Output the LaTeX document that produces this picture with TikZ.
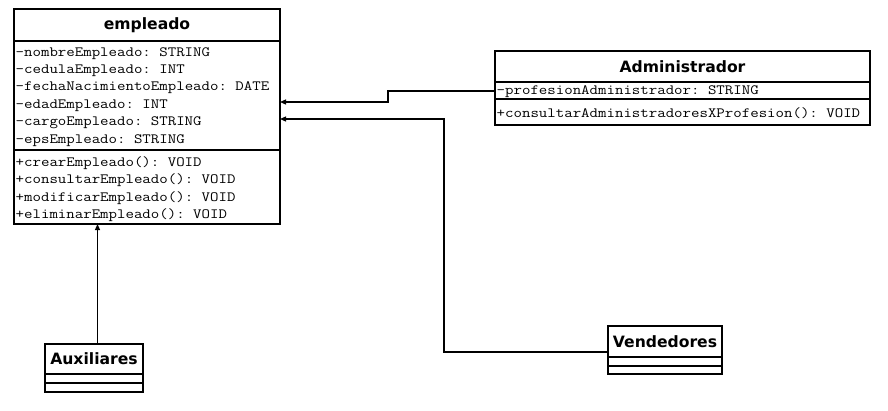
\documentclass[tikz,border=0pt]{standalone}
\usepackage{fontspec}
\setmonofont{Latin Modern Mono}[FakeStretch=1.16]
\newfontfamily\titlefont{DejaVu Sans}
\usetikzlibrary{arrows.meta}
\begin{document}
\begin{tikzpicture}[x=1pt,y=-1pt,
  classbox/.style={draw=black,line width=1.1pt,fill=white,inner sep=0pt,outer sep=0pt,anchor=north west},
  sepline/.style={line width=1.1pt},
  classname/.style={font=\titlefont\bfseries\fontsize{15.6}{18}\selectfont,inner sep=0pt},
  member/.style={font=\ttfamily\fontsize{14.15}{17}\selectfont,inner sep=0pt,anchor=base west},
  arr/.style={line width=1.2pt,-{Triangle[length=6pt,width=5pt]}}]
\useasboundingbox (0,0) rectangle (888,410);

% class empleado
\node[classbox,minimum width=266pt,minimum height=215pt] (emp) at (14,9) {};
\draw[sepline] ([yshift=-32pt]emp.north west) -- ([yshift=-32pt]emp.north east);
\draw[sepline] ([yshift=-141pt]emp.north west) -- ([yshift=-141pt]emp.north east);
\node[classname] (empT) at (147,25) {empleado};
\foreach \t [count=\i] in {-nombreEmpleado: STRING,-cedulaEmpleado: INT,-fechaNacimientoEmpleado: DATE,-edadEmpleado: INT,-cargoEmpleado: STRING,-epsEmpleado: STRING}
  \node[member] (empa\i) at (15.5,56+17.45*\i-17.45) {\t};
\foreach \t [count=\i] in {+crearEmpleado(): VOID,+consultarEmpleado(): VOID,+modificarEmpleado(): VOID,+eliminarEmpleado(): VOID}
  \node[member] (empm\i) at (15.5,166.2+17.4*\i-17.4) {\t};

% class Administrador
\node[classbox,minimum width=375pt,minimum height=74pt] (adm) at (495,51) {};
\draw[sepline] ([yshift=-31pt]adm.north west) -- ([yshift=-31pt]adm.north east);
\draw[sepline] ([yshift=-48pt]adm.north west) -- ([yshift=-48pt]adm.north east);
\node[classname] (admT) at (682.5,66.5) {Administrador};
\node[member] (adma1) at (496.5,94.5) {-profesionAdministrador: STRING};
\node[member] (admm1) at (496.5,117.5) {+consultarAdministradoresXProfesion(): VOID};

% class Vendedores
\node[classbox,minimum width=114pt,minimum height=48pt] (ven) at (608,326) {};
\draw[sepline] ([yshift=-31pt]ven.north west) -- ([yshift=-31pt]ven.north east);
\draw[sepline] ([yshift=-40pt]ven.north west) -- ([yshift=-40pt]ven.north east);
\node[classname] (venT) at (665,341.5) {Vendedores};

% class Auxiliares
\node[classbox,minimum width=98pt,minimum height=48pt] (aux) at (45,344) {};
\draw[sepline] ([yshift=-30pt]aux.north west) -- ([yshift=-30pt]aux.north east);
\draw[sepline] ([yshift=-39pt]aux.north west) -- ([yshift=-39pt]aux.north east);
\node[classname] (auxT) at (94,359) {Auxiliares};

% generalisation connectors
\draw[arr] ([yshift=-40pt]adm.north west) -- ++(-107,0) |- ([yshift=-93pt]emp.north east);
\draw[arr] ([yshift=-26pt]ven.north west) -- ++(-164,0) |- ([yshift=-110pt]emp.north east);
\draw[arr] ([xshift=52.5pt]aux.north west) -- ([xshift=83.5pt]emp.south west);
\end{tikzpicture}
\end{document}
